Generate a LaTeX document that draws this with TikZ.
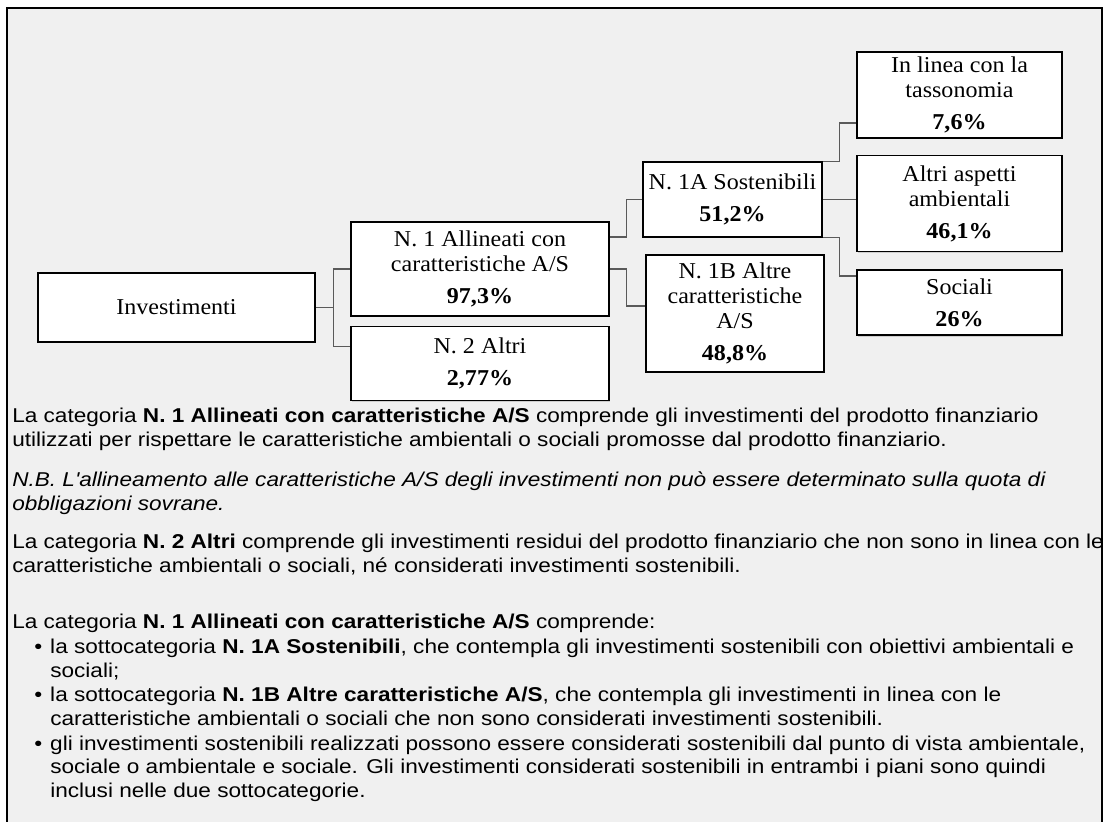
\documentclass[tikz,border=0pt]{standalone}
\usepackage{fontspec}
\setmainfont{Liberation Serif}[FakeStretch=1.06]
\newfontfamily\notefont{Liberation Sans}[FakeStretch=1.13]
\usetikzlibrary{positioning,shadows}

\definecolor{panelgray}{HTML}{F0F0F0}
\definecolor{linkgray}{HTML}{5A5A5A}

\begin{document}
\begin{tikzpicture}[
    x=0.75pt, y=-0.75pt,
    box/.style={draw, line width=1.2pt, fill=white, align=center, inner sep=1pt,
        font=\fontsize{17}{18.75}\selectfont,
        drop shadow={shadow xshift=1pt, shadow yshift=-1pt, opacity=0.3}},
    boxdim/.style 2 args={minimum width=#1*0.75pt, minimum height=#2*0.75pt},
    link/.style={draw=linkgray, line width=0.9pt},
    note/.style={anchor=base west, align=left, inner sep=0pt,
        font=\notefont\fontsize{15}{17.6}\selectfont},
    noteit/.style={note, font=\notefont\itshape\fontsize{15}{17.6}\selectfont}
  ]
    \useasboundingbox (0,0) rectangle (1106,821);

    % Panel
    \fill[panelgray] (7,8) rectangle (1102,830);
    \draw[line width=1.5pt] (7,830) -- (7,8) -- (1102,8) -- (1102,830);

    % Nodes
    \node[box, boxdim={277}{69}] (inv) at (176.5,307.5) {Investimenti};
    \node[box, boxdim={258}{94}] (n1) at (480,269) {N. 1 Allineati con\\caratteristiche A/S\\[5pt]\textbf{97,3\%}};
    \node[box, boxdim={258}{74}, below=6.75pt of n1] (n2) {N. 2 Altri\\[5pt]\textbf{2,77\%}};

    \node[box, boxdim={179}{75}] (n1a) at (732.5,199.5) {N. 1A Sostenibili\\[5pt]\textbf{51,2\%}};
    \node[box, boxdim={178}{117}] (n1b) at (735,313.5) {N. 1B Altre\\caratteristiche\\A/S\\[5pt]\textbf{48,8\%}};

    \node[box, boxdim={205}{86}] (tax) at (959.5,95) {In linea con la\\tassonomia\\[5pt]\textbf{7,6\%}};
    \node[box, boxdim={205}{96}, below=12pt of tax] (amb) {Altri aspetti\\ambientali\\[5pt]\textbf{46,1\%}};
    \node[box, boxdim={205}{65}, below=12.75pt of amb] (soc) {Sociali\\[5pt]\textbf{26\%}};

    % Edges
    \draw[link] (inv.east) -- ++(18,0) |- (n1.west);
    \draw[link] (inv.east) -- ++(18,0) |- ([yshift=12.75pt]n2.west);
    \draw[link] ([yshift=24pt]n1.east) -- ++(17,0) |- (n1a.west);
    \draw[link] (n1.east) -- ++(17,0) |- ([yshift=5.6pt]n1b.west);
    \draw[link] (n1a.north east) -- ++(17,0) |- ([yshift=-21pt]tax.west);
    \draw[link] (n1a.east) -- (n1a.east -| amb.west);
    \draw[link] (n1a.south east) -- ++(17,0) |- ([yshift=20pt]soc.west);

    % Notes (anchored at the baseline of their last line)
    \node[note] (p1) at (12,446) {La categoria \textbf{N. 1 Allineati con caratteristiche A/S} comprende gli investimenti del prodotto finanziario\\utilizzati per rispettare le caratteristiche ambientali o sociali promosse dal prodotto finanziario.};
    \node[noteit] (p2) at (12,510) {N.B. L'allineamento alle caratteristiche A/S degli investimenti non può essere determinato sulla quota di\\obbligazioni sovrane.};
    \node[note] (p3) at (12,572) {La categoria \textbf{N. 2 Altri} comprende gli investimenti residui del prodotto finanziario che non sono in linea con le\\caratteristiche ambientali o sociali, né considerati investimenti sostenibili.};
    \node[note] (p4) at (12,628) {La categoria \textbf{N. 1 Allineati con caratteristiche A/S} comprende:};
    \node[note] (b1) at (50,677) {\llap{\textbullet\hspace{6pt}}la sottocategoria \textbf{N. 1A Sostenibili}, che contempla gli investimenti sostenibili con obiettivi ambientali e\\sociali;};
    \node[note] (b2) at (50,725) {\llap{\textbullet\hspace{6pt}}la sottocategoria \textbf{N. 1B Altre caratteristiche A/S}, che contempla gli investimenti in linea con le\\caratteristiche ambientali o sociali che non sono considerati investimenti sostenibili.};
    \node[note] (b3) at (50,797) {\llap{\textbullet\hspace{6pt}}gli investimenti sostenibili realizzati possono essere considerati sostenibili dal punto di vista ambientale,\\sociale o ambientale e sociale. Gli investimenti considerati sostenibili in entrambi i piani sono quindi\\inclusi nelle due sottocategorie.};
\end{tikzpicture}
\end{document}
